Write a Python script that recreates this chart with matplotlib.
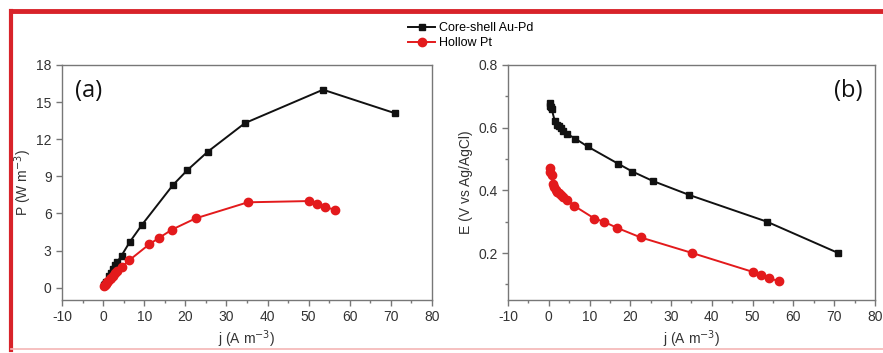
import numpy as np
import matplotlib.pyplot as plt
from matplotlib.lines import Line2D
from matplotlib.ticker import MultipleLocator

plt.rcParams['font.family'] = ['Liberation Sans', 'DejaVu Sans']
plt.rcParams['axes.unicode_minus'] = False

# Core-shell Au-Pd
j_aupd = [0.3, 0.4, 0.5, 0.7, 1.5, 2.0, 2.5, 3.0, 3.5, 4.5, 6.5, 9.5, 17.0, 20.5, 25.5, 34.5, 53.5, 71.0]
E_aupd = [0.68, 0.67, 0.665, 0.66, 0.62, 0.61, 0.605, 0.60, 0.59, 0.58, 0.565, 0.54, 0.485, 0.46, 0.43, 0.385, 0.30, 0.20]
P_aupd = [0.2, 0.27, 0.33, 0.46, 0.93, 1.2, 1.5, 1.8, 2.1, 2.6, 3.7, 5.1, 8.3, 9.5, 11.0, 13.3, 16.0, 14.1]

# Hollow Pt
j_pt = [0.2, 0.4, 0.7, 1.0, 1.3, 1.7, 2.0, 2.5, 3.0, 3.5, 4.5, 6.3, 11.2, 13.5, 16.8, 22.5, 35.2, 50.0, 52.0, 54.0, 56.5]
E_pt = [0.47, 0.46, 0.45, 0.42, 0.41, 0.40, 0.395, 0.39, 0.385, 0.38, 0.37, 0.35, 0.31, 0.30, 0.28, 0.25, 0.20, 0.14, 0.13, 0.12, 0.11]
P_pt = [0.1, 0.18, 0.32, 0.42, 0.53, 0.68, 0.8, 0.98, 1.15, 1.33, 1.67, 2.2, 3.5, 4.0, 4.7, 5.6, 6.9, 7.0, 6.8, 6.5, 6.3]

BLACK = '#111111'
RED = '#e31a1c'
GRAY = '#777777'
TXT = '#333333'

fig = plt.figure(figsize=(8.83, 3.53), dpi=100)
axA = fig.add_axes([0.0702, 0.150, 0.419, 0.666])
axB = fig.add_axes([0.5753, 0.150, 0.4156, 0.666])

for ax in (axA, axB):
    for s in ax.spines.values():
        s.set_color(GRAY)
        s.set_linewidth(1.0)
    ax.tick_params(direction='out', length=4, width=1, colors=GRAY, labelcolor=TXT, labelsize=10)
    ax.tick_params(which='minor', direction='out', length=2.5, width=1, colors=GRAY)
    ax.set_xlim(-10, 80)
    ax.xaxis.set_major_locator(MultipleLocator(10))
    ax.xaxis.set_minor_locator(MultipleLocator(5))
    ax.set_xlabel('j (A m$^{-3}$)', fontsize=10, color=TXT, labelpad=3)

# (a) power density
axA.plot(j_aupd, P_aupd, '-s', color=BLACK, lw=1.4, ms=5, label='Core-shell Au-Pd')
axA.plot(j_pt, P_pt, '-o', color=RED, lw=1.4, ms=6, label='Hollow Pt')
axA.set_ylim(-1, 18)
axA.yaxis.set_major_locator(MultipleLocator(3))
axA.set_ylabel('P (W m$^{-3}$)', fontsize=10, color=TXT)
axA.yaxis.set_label_coords(-0.075, 0.5)
axA.text(0.035, 0.89, '(a)', transform=axA.transAxes, fontsize=17, va='center', ha='left',
         family=['Open Sans', 'DejaVu Sans'], color='#111111')

# (b) polarization
axB.plot(j_aupd, E_aupd, '-s', color=BLACK, lw=1.4, ms=5)
axB.plot(j_pt, E_pt, '-o', color=RED, lw=1.4, ms=6)
axB.set_ylim(0.05, 0.8)
axB.yaxis.set_major_locator(MultipleLocator(0.2))
axB.yaxis.set_minor_locator(MultipleLocator(0.1))
axB.set_ylabel('E (V vs Ag/AgCl)', fontsize=10, color=TXT, labelpad=4)
axB.text(0.965, 0.89, '(b)', transform=axB.transAxes, fontsize=17, va='center', ha='right',
         family=['Open Sans', 'DejaVu Sans'], color='#111111')

handles, labels = axA.get_legend_handles_labels()
fig.legend(handles, labels, loc='upper left', bbox_to_anchor=(0.452, 0.962), frameon=False,
           fontsize=9, handlelength=2.2, handletextpad=0.3, labelspacing=0.25, borderpad=0.2)

# red frame around the figure
fig.add_artist(Line2D([0.0125, 1.0], [0.970, 0.970], transform=fig.transFigure, color='#d8232a', lw=3.5))
fig.add_artist(Line2D([0.0125, 0.0125], [0.970, 0.008], transform=fig.transFigure, color='#d8232a', lw=3.0))
fig.add_artist(Line2D([0.0125, 1.0], [0.010, 0.010], transform=fig.transFigure, color='#f5b5b5', lw=1.2))

fig.savefig('out.png', dpi=100)
